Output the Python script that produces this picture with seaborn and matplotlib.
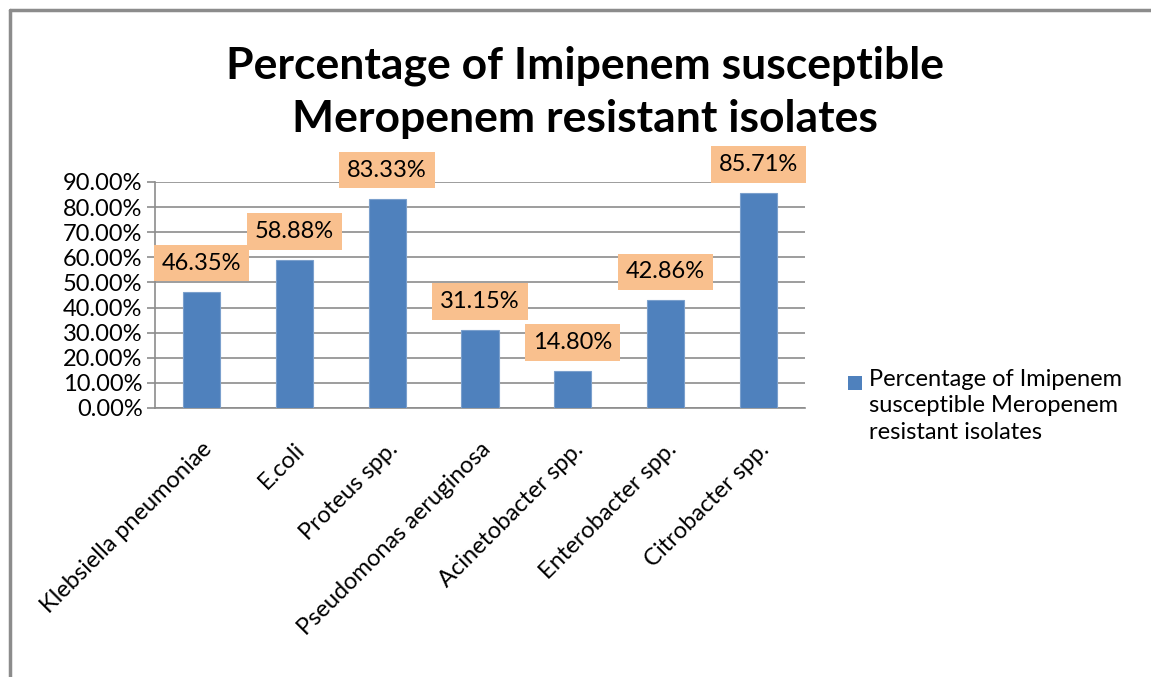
import matplotlib
matplotlib.use("Agg")
import matplotlib.pyplot as plt
import seaborn as sns
import pandas as pd
from matplotlib.lines import Line2D
from matplotlib.patches import Rectangle

categories = ["Klebsiella pneumoniae", "E.coli", "Proteus spp.", "Pseudomonas aeruginosa",
              "Acinetobacter spp.", "Enterobacter spp.", "Citrobacter spp."]
values = [46.35, 58.88, 83.33, 31.15, 14.80, 42.86, 85.71]
value_labels = ["46.35%", "58.88%", "83.33%", "31.15%", "14.80%", "42.86%", "85.71%"]
yticks = [0, 10, 20, 30, 40, 50, 60, 70, 80, 90]
ytick_labels = ["0.00%", "10.00%", "20.00%", "30.00%", "40.00%", "50.00%",
                "60.00%", "70.00%", "80.00%", "90.00%"]
legend_text = "Percentage of Imipenem\nsusceptible Meropenem\nresistant isolates"
title = "Percentage of Imipenem susceptible\nMeropenem resistant isolates"

sns.set_style("white")
plt.rcParams["font.family"] = ["Lato", "DejaVu Sans"]
plt.rcParams["text.color"] = "black"
plt.rcParams["xtick.color"] = "black"
plt.rcParams["ytick.color"] = "black"

W, H = 1151, 677
fig = plt.figure(figsize=(W / 100, H / 100), dpi=100)
ax = fig.add_axes([155 / W, 1 - 408 / H, (805 - 155) / W, (408 - 182) / H])

df = pd.DataFrame({"cat": categories, "val": values})
bar_color = "#4F81BD"
sns.barplot(data=df, x="cat", y="val", ax=ax, color=bar_color, width=0.4,
            saturation=1, edgecolor="#7BA0CD", linewidth=0.8, zorder=3)

FS = 17
ax.set_ylim(0, 90)
ax.set_xlim(-0.5, len(categories) - 0.5)
ax.set_yticks(yticks)
ax.set_yticklabels(ytick_labels, fontsize=FS)
ax.set_xlabel("")
ax.set_ylabel("")
ax.yaxis.grid(True, color="#8C8C8C", linewidth=1.2, zorder=0)
ax.xaxis.grid(False)
ax.set_axisbelow(True)

ax.set_xticks(range(len(categories)))
ax.set_xticklabels(categories, rotation=45, ha="right", rotation_mode="anchor", fontsize=17)
ax.tick_params(axis="x", which="major", length=0, pad=22, labelcolor="black")
ax.set_xticks([i - 0.5 for i in range(len(categories) + 1)], minor=True)
ax.tick_params(axis="x", which="minor", length=6, width=1.2, color="#8C8C8C", direction="out")
ax.tick_params(axis="y", which="major", length=6, width=1.2, color="#8C8C8C", direction="out",
               pad=3, labelcolor="black")
ax.tick_params(axis="y", left=True)

for s in ["top", "right"]:
    ax.spines[s].set_visible(False)
for s in ["left", "bottom"]:
    ax.spines[s].set_visible(True)
    ax.spines[s].set_color("#8C8C8C")
    ax.spines[s].set_linewidth(1.2)

for i, (v, lab) in enumerate(zip(values, value_labels)):
    ax.annotate(lab, xy=(i, v), xytext=(0, 13), textcoords="offset points",
                ha="center", va="bottom", fontsize=FS, zorder=5, color="black",
                bbox=dict(boxstyle="square,pad=0.33", fc="#F9C08E", ec="none"),
                annotation_clip=False)

fig.text(585 / W, 1 - 45 / H, title, fontsize=32, fontweight="bold", ha="center",
         va="top", linespacing=1.42, color="black")

# legend
fig.add_artist(Rectangle((848 / W, 1 - 390 / H), 14 / W, 14 / H, facecolor=bar_color,
                         edgecolor="none", transform=fig.transFigure))
fig.text(869 / W, 1 - 369 / H, legend_text, fontsize=FS, ha="left", va="top",
         linespacing=1.32, color="black")

fig.add_artist(Line2D([10 / W, 10 / W], [0, 1 - 10 / H], color="#8C8C8C", lw=2.5,
                      transform=fig.transFigure))
fig.add_artist(Line2D([10 / W, 1], [1 - 10 / H, 1 - 10 / H], color="#8C8C8C", lw=2.5,
                      transform=fig.transFigure))

fig.savefig("out.png", dpi=100, facecolor="white")
